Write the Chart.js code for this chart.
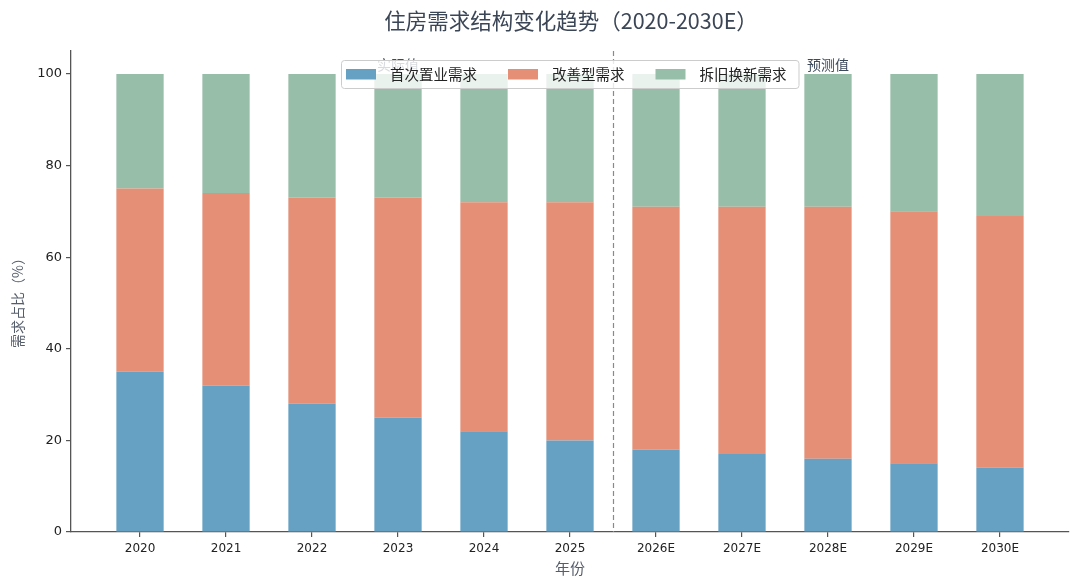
<!DOCTYPE html>
<html>
<head>
<meta charset="utf-8">
<script src="https://cdn.jsdelivr.net/npm/chart.js@4.4.0/dist/chart.umd.min.js"></script>
<style>
html,body{margin:0;padding:0;background:#fff;}
#wrap{width:1080px;height:588px;position:relative;}
</style>
</head>
<body>
<div id="wrap"><canvas id="c" width="1080" height="588"></canvas></div>
<script>
const categories = ['2020','2021','2022','2023','2024','2025','2026E','2027E','2028E','2029E','2030E'];
const firstHome = [35,32,28,25,22,20,18,17,16,15,14];
const upgrade   = [40,42,45,48,50,52,53,54,55,55,55];
const renewal   = [25,26,27,27,28,28,29,29,29,30,31];
const yTicks = [0,20,40,60,80,100];
const seriesNames = ['首次置业需求','改善型需求','拆旧换新需求'];
const seriesColors = ['rgb(102,161,196)','rgb(228,143,118)','rgb(151,190,169)'];
const splitAt = 5.5;       // between actual and forecast
const annoLabels = [{x:3, y:102, text:'实际值'},{x:8, y:102, text:'预测值'}];

const FONT = "'Noto Sans CJK SC', 'Noto Sans', sans-serif";
const NUMFONT = "'DejaVu Sans', 'Noto Sans CJK SC', sans-serif";

function toXY(arr){ return arr.map((v,i)=>({x:i, y:v})); }

const overlay = {
  id:'overlay',
  afterDatasetsDraw(chart){
    const ctx = chart.ctx, xs = chart.scales.x, ys = chart.scales.y, ca = chart.chartArea;
    const midX = (ca.left + ca.right)/2;
    ctx.save();
    // annotations
    ctx.font = '14px ' + FONT;
    ctx.fillStyle = '#3d4a5c';
    ctx.textAlign = 'center';
    ctx.textBaseline = 'middle';
    annoLabels.forEach(a=>{
      ctx.fillText(a.text, xs.getPixelForValue(a.x), ys.getPixelForValue(a.y));
    });
    // dashed split line
    const sx = Math.round(xs.getPixelForValue(splitAt)) + 0.5;
    ctx.strokeStyle = '#8a8a8a';
    ctx.lineWidth = 1.2;
    ctx.setLineDash([5,3]);
    ctx.beginPath();
    ctx.moveTo(sx, ca.top);
    ctx.lineTo(sx, ca.bottom);
    ctx.stroke();
    ctx.setLineDash([]);
    // legend
    ctx.font = '14.5px ' + FONT;
    const patchW = 30, gapText = 14, colGap = 31, padL = 5, padR = 12;
    let total = padL + padR;
    chart.data.datasets.forEach((ds,i)=>{
      total += patchW + gapText + ctx.measureText(ds.label).width + (i < chart.data.datasets.length-1 ? colGap : 0);
    });
    const bw = total, bh = 28, bx = Math.round(midX - bw/2), by = 60;
    ctx.fillStyle = 'rgba(255,255,255,0.8)';
    ctx.strokeStyle = '#cccccc';
    ctx.lineWidth = 1;
    ctx.beginPath();
    ctx.roundRect(bx+0.5, by+0.5, bw, bh, 3);
    ctx.fill();
    ctx.stroke();
    ctx.textAlign = 'left';
    ctx.textBaseline = 'middle';
    let x = bx + padL;
    const cy = by + bh/2;
    chart.data.datasets.forEach(ds=>{
      ctx.fillStyle = ds.backgroundColor;
      ctx.fillRect(x, cy-5, patchW, 10.5);
      ctx.fillStyle = '#222';
      ctx.fillText(ds.label, x+patchW+gapText, cy+0.5);
      x = x + patchW + gapText + ctx.measureText(ds.label).width + colGap;
    });
    // title
    ctx.font = '21.5px ' + FONT;
    ctx.fillStyle = '#3a4556';
    ctx.textAlign = 'center';
    ctx.textBaseline = 'middle';
    ctx.fillText('住房需求结构变化趋势（2020-2030E）', midX + 1, 21);
    // axis titles
    ctx.font = '15px ' + FONT;
    ctx.fillStyle = '#555d6b';
    ctx.textAlign = 'center';
    ctx.fillText('年份', midX, 568);
    ctx.save();
    ctx.translate(18, (ca.top+ca.bottom)/2 + 8);
    ctx.rotate(-Math.PI/2);
    ctx.font = '14px ' + FONT;
    ctx.fillText('需求占比（%）', 0, 0);
    ctx.restore();
    ctx.restore();
  }
};

new Chart(document.getElementById('c'), {
  type:'bar',
  data:{
    datasets:[
      {label:seriesNames[0], data:toXY(firstHome), backgroundColor:seriesColors[0]},
      {label:seriesNames[1], data:toXY(upgrade),   backgroundColor:seriesColors[1]},
      {label:seriesNames[2], data:toXY(renewal),   backgroundColor:seriesColors[2]}
    ]
  },
  options:{
    responsive:false,
    animation:false,
    devicePixelRatio:1,
    categoryPercentage:1,
    barPercentage:0.55,
    layout:{padding:{left:0,right:11,top:51,bottom:0}},
    plugins:{legend:{display:false}, tooltip:{enabled:false}, title:{display:false}},
    scales:{
      x:{
        type:'linear', stacked:true, offset:false,
        min:-0.8025, max:10.8025,
        afterBuildTicks(s){ s.ticks = categories.map((c,i)=>({value:i})); },
        afterFit(s){ s.height = 56; },
        ticks:{
          callback:(v)=>categories[v],
          font:{family:NUMFONT, size:12}, color:'#222', padding:5, maxRotation:0, autoSkip:false
        },
        grid:{offset:false, drawOnChartArea:false, drawTicks:true, tickLength:5, color:'#555', lineWidth:1.2},
        border:{display:true, color:'#555', width:1.3}
      },
      y:{
        stacked:true, min:0, max:105,
        afterBuildTicks(s){ s.ticks = yTicks.map(v=>({value:v})); },
        afterFit(s){ s.width = 71; },
        ticks:{font:{family:NUMFONT, size:13}, color:'#222', padding:4},
        grid:{drawOnChartArea:false, drawTicks:true, tickLength:5, color:'#555', lineWidth:1.2},
        border:{display:true, color:'#555', width:1.3}
      }
    }
  },
  plugins:[overlay]
});
</script>
</body>
</html>
